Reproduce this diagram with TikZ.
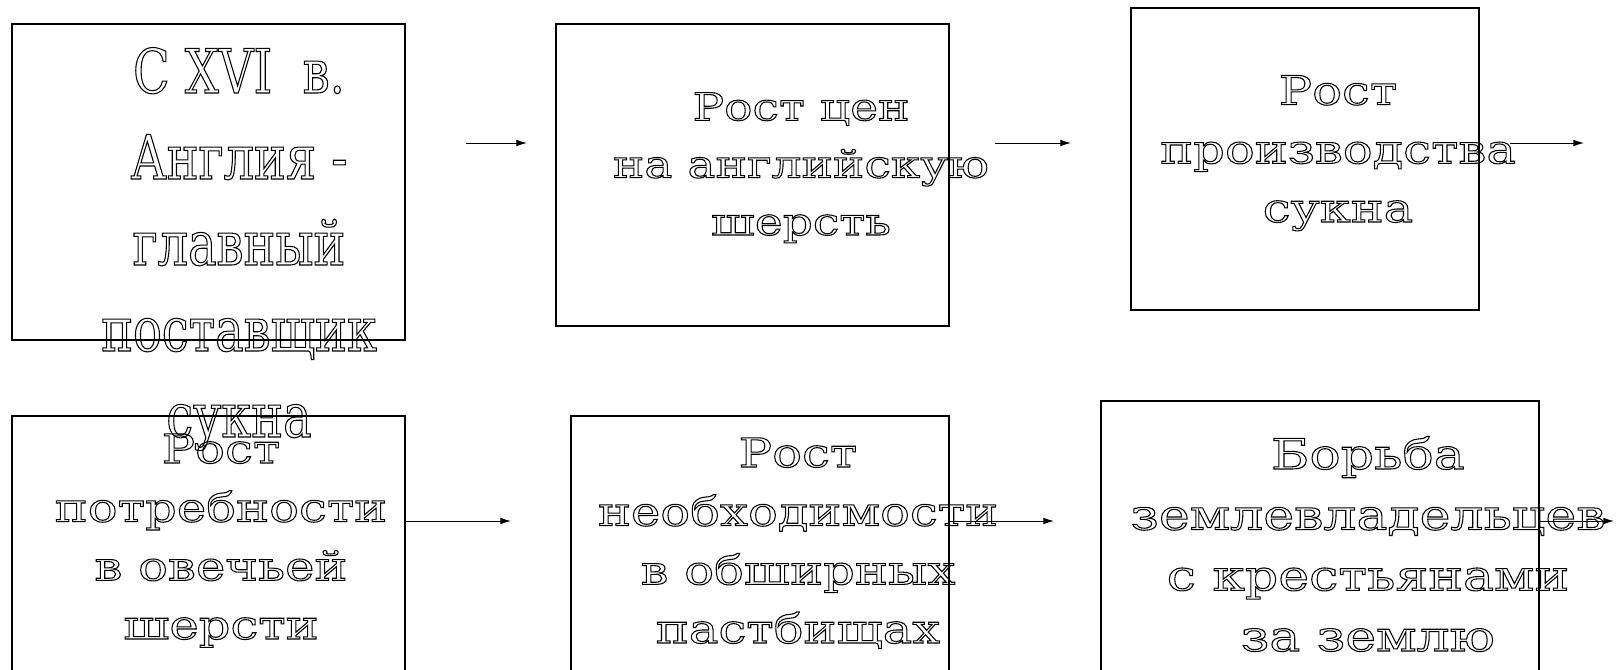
\documentclass[tikz,border=0pt]{standalone}
\usepackage{fontspec}
\usetikzlibrary{arrows.meta,fit}
\setmainfont{DejaVu Serif}
\newfontfamily\wideslab[FakeStretch=1.24]{DejaVu Serif}
\newfontfamily\narrowslab[FakeStretch=0.78]{DejaVu Serif}
% stroked (hollow) letters
\newcommand\hollowon{\special{pdf:literal direct 1 Tr 0.8 w}}
\newcommand\hollowoff{\special{pdf:literal direct 0 Tr}}

\begin{document}
\begin{tikzpicture}[x=0.75pt,y=0.75pt,yscale=-1,xscale=1,
    box/.style={draw, line width=1pt, inner sep=0pt},
    lbl/.style={anchor=base, align=center, inner sep=0pt,
      font={\wideslab\fontsize{30}{44}\selectfont},
      execute at begin node=\hollowon, execute at end node=\hollowoff},
    biglbl/.style={lbl, font={\narrowslab\fontsize{46}{64.5}\selectfont}},
    arr/.style={-{Latex[length=8pt,width=5pt]}, line width=0.75pt}]
        \useasboundingbox (0,0) rectangle (1616,669);

        %Shape: Rectangle [top row]
        \node [box, fit={(12,24) (405,340)}] (b1) {};
        \node [box, fit={(556,24) (949,326)}] (b2) {};
        \node [box, fit={(1131,8) (1479,310)}] (b3) {};
        %Shape: Rectangle [bottom row]
        \node [box, fit={(12,416) (405,690)}] (b4) {};
        \node [box, fit={(571,416) (949,690)}] (b5) {};
        \node [box, fit={(1101,401) (1539,690)}] (b6) {};

        %Straight Lines
        \coordinate (a1s) at (466,143);  \coordinate (a1e) at (527,143);
        \coordinate (a2s) at (995,143);  \coordinate (a2e) at (1071,143);
        \coordinate (a3s) at (1510,143); \coordinate (a3e) at (1584,143);
        \coordinate (a4s) at (405,521);  \coordinate (a4e) at (511,521);
        \coordinate (a5s) at (949,521);  \coordinate (a5e) at (1054,521);
        \coordinate (a6s) at (1539,521); \coordinate (a6e) at (1614,521);
        \draw [arr] (a1s) -- (a1e);
        \draw [arr] (a2s) -- (a2e);
        \draw [arr] (a3s) -- (a3e);
        \draw [arr] (a4s) -- (a4e);
        \draw [arr] (a5s) -- (a5e);
        \draw [arr] (a6s) -- (a6e);

        % Text Node (anchored at the baseline of the last line)
        \node [biglbl] (t1) at (239,437) {С XVI\ \ в.\\Англия -\\главный\\поставщик\\сукна};
        % Text Node
        \node [lbl, font={\wideslab\fontsize{28.5}{43}\selectfont}] (t2) at (801,235) {Рост цен\\на английскую\\шерсть};
        % Text Node
        \node [lbl] (t3) at (1338,222) {Рост\\производства\\сукна};
        % Text Node
        \node [lbl] (t4) at (221,639) {Рост\\потребности\\в овечьей\\шерсти};
        % Text Node
        \node [lbl] (t5) at (798,643) {Рост\\необходимости\\в обширных\\пастбищах};
        % Text Node
        \node [lbl, font={\wideslab\fontsize{31.5}{45.5}\selectfont}] (t6) at (1368,651) {Борьба\\землевладельцев\\с крестьянами\\за землю};

\end{tikzpicture}
\end{document}
